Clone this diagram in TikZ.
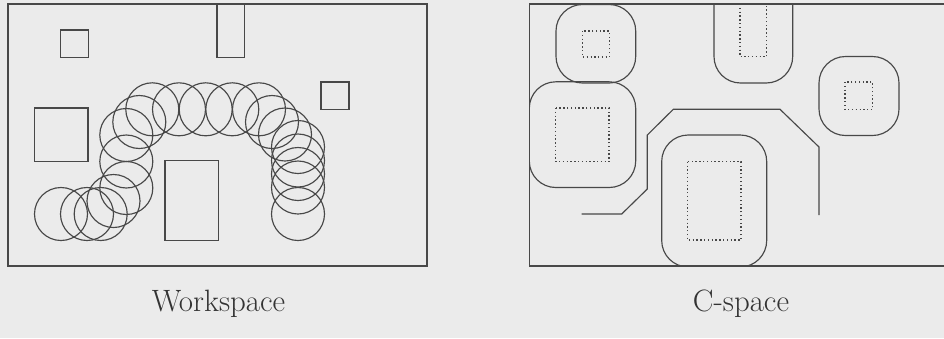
\documentclass[tikz,border=0pt]{standalone}
\definecolor{lc}{HTML}{484848}
\definecolor{tc}{HTML}{333333}
\definecolor{bg}{HTML}{EBEBEB}
\begin{document}
\begin{tikzpicture}[x=1bp,y=-1bp,line width=1.15bp]
\tikzset{
  ln/.style={draw=lc},
  cir/.style={draw=lc},
  dot/.style={draw=lc,dash pattern=on 1.3bp off 2.5bp},
  cobs/.style={draw=lc,rounded corners=26.5bp},
  lbl/.style={text=tc,font=\fontsize{31}{36}\selectfont,anchor=base}
}
\clip (0,0) rectangle (944,338);
\fill[bg] (0,0) rectangle (944,338);
% ---------- Workspace ----------
\draw[ln] (8,4) rectangle (427,266);
\draw[ln] (60.7,30) rectangle (88.3,57.7);
\draw[ln] (217,4) rectangle (244.3,57.3);
\draw[ln] (321,82) rectangle (349,109.3);
\draw[ln] (34.7,108) rectangle (88,161.7);
\draw[ln] (165,160.7) rectangle (218.3,240.3);
\foreach \p in {(61,214),(87,214),(100.7,214),(113.5,201),(126.3,188),
  (126.3,161.5),(126.3,135),(139.3,122),(152.3,109.3),(179,109.3),
  (205.7,109.3),(232.3,109.3),(259,109.3),(272,122),(285,134.5),
  (298,147),(298,160.5),(298,174),(298,187.5),(298,214)}
  \draw[cir] \p circle[radius=26.5];
\node[lbl] (ws) at (218.5,311) {Workspace};
% ---------- C-space ----------
\draw[ln] (960,4) -- (529.3,4) -- (529.3,266) -- (960,266);
\begin{scope}
\clip (529.3,4) rectangle (960,266);
\draw[dot] (582.3,31) rectangle (609.3,57);
\draw[cobs] (556,4.5) rectangle (635.7,83);
\draw[dot] (740,4) rectangle (766.7,56.7);
\draw[cobs] (714,-40) rectangle (792.7,83);
\draw[dot] (845,82) rectangle (872.7,109.3);
\draw[cobs] (819,56.5) rectangle (899,135.5);
\draw[dot] (555.7,108) rectangle (609,161.7);
\draw[cobs] (529.3,81.8) rectangle (635.7,187.5);
\draw[dot] (687.3,161.7) rectangle (741,240);
\draw[cobs] (661.7,135) rectangle (766.7,267);
\end{scope}
\coordinate (s) at (581.7,214);
\coordinate (e) at (819,215);
\draw[ln] (s) -- (621.7,214) -- (647.3,189) -- (647.3,135) -- (673.3,109.3)
  -- (780,109.3) -- (819,147) -- (e);
\node[lbl] (cs) at (741,311) {C-space};
\end{tikzpicture}
\end{document}
